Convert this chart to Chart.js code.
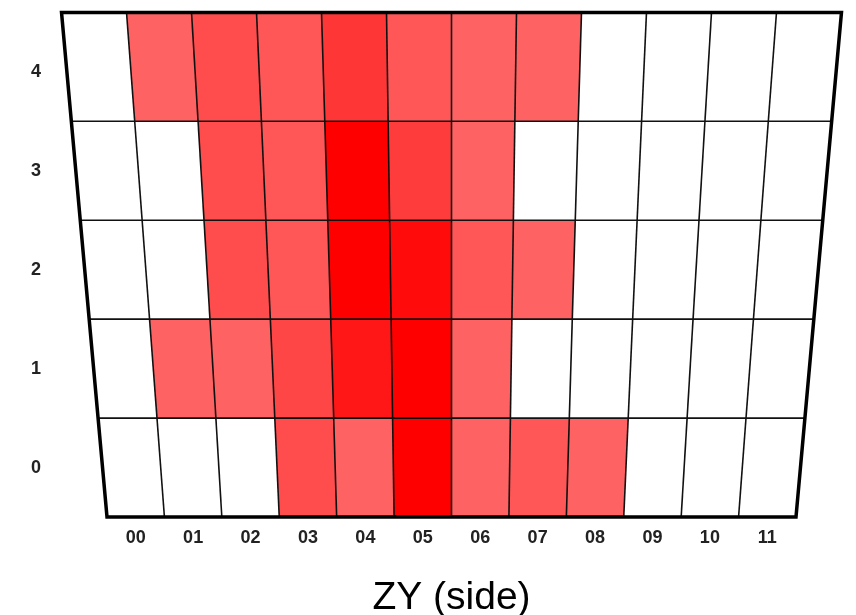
<!DOCTYPE html>
<html lang="en">
  <head>
    <meta charset="UTF-8" />
    <title>ZY (side)</title>
    <script src="https://cdn.jsdelivr.net/npm/chart.js"></script>
    <style>
      * {
        margin: 0;
        padding: 0;
        box-sizing: border-box;
      }
      body {
        background: #fff;
        width: 856px;
        height: 615px;
        overflow: hidden;
      }
      .wrap {
        position: relative;
        width: 856px;
        height: 615px;
      }
    </style>
  </head>
  <body>
    <div class="wrap"><canvas id="zy"></canvas></div>

    <script>
      // column / row labels
      const xLabels = ["00", "01", "02", "03", "04", "05", "06", "07", "08", "09", "10", "11"];
      const yLabels = ["0", "1", "2", "3", "4"];

      // intensity per cell (0 = empty, 10 = full red), one array per row
      const row0 = [0, 0, 0, 3, 1, 10, 1, 2, 1, 0, 0, 0];
      const row1 = [0, 1, 1, 3.6, 8, 10, 1, 0, 0, 0, 0, 0];
      const row2 = [0, 0, 3, 2, 10, 9, 2, 1, 0, 0, 0, 0];
      const row3 = [0, 0, 3, 2, 10, 4.5, 1, 0, 0, 0, 0, 0];
      const row4 = [0, 1, 3, 2, 5, 2, 1, 1, 0, 0, 0, 0];
      const rows = [row0, row1, row2, row3, row4];
      const maxValue = 10;

      // how much wider the top edge is than the bottom (perspective look)
      const topWiden = 0.132;

      function cellColor(v) {
        if (v <= 0) return null;
        const g = Math.round((98 * (maxValue - v)) / (maxValue - 1));
        return `rgb(255, ${g}, ${g})`;
      }

      const points = [];
      rows.forEach((r, ri) => {
        r.forEach((v, ci) => points.push({ x: ci, y: ri, v: v }));
      });

      const perspectiveGrid = {
        id: "perspectiveGrid",
        afterDatasetsDraw(chart) {
          const { ctx, chartArea, scales } = chart;
          const xs = scales.x;
          const ys = scales.y;
          const cx = (chartArea.left + chartArea.right) / 2;
          const h = chartArea.bottom - chartArea.top;

          // data -> pixel, bending x with height
          const px = (x, y) => {
            const py = ys.getPixelForValue(y);
            const f = 1 + (topWiden * (chartArea.bottom - py)) / h;
            return [cx + (xs.getPixelForValue(x) - cx) * f, py];
          };
          const yLo = (r) => (r === 0 ? ys.min : r - 0.5);
          const yHi = (r) => (r === rows.length - 1 ? ys.max : r + 0.5);

          ctx.save();
          // cells
          chart.data.datasets[0].data.forEach((p) => {
            const c = cellColor(p.v);
            if (!c) return;
            const a = px(p.x - 0.5, yLo(p.y));
            const b = px(p.x + 0.5, yLo(p.y));
            const d = px(p.x + 0.5, yHi(p.y));
            const e = px(p.x - 0.5, yHi(p.y));
            ctx.fillStyle = c;
            ctx.beginPath();
            ctx.moveTo(a[0], a[1]);
            ctx.lineTo(b[0], b[1]);
            ctx.lineTo(d[0], d[1]);
            ctx.lineTo(e[0], e[1]);
            ctx.closePath();
            ctx.fill();
          });

          // inner lines
          ctx.strokeStyle = "#111";
          ctx.lineWidth = 1.6;
          for (let i = 1; i < xLabels.length; i++) {
            const a = px(xs.min + i, ys.min);
            const b = px(xs.min + i, ys.max);
            ctx.beginPath();
            ctx.moveTo(a[0], a[1]);
            ctx.lineTo(b[0], b[1]);
            ctx.stroke();
          }
          for (let r = 1; r < rows.length; r++) {
            const a = px(xs.min, r - 0.5);
            const b = px(xs.max, r - 0.5);
            ctx.beginPath();
            ctx.moveTo(a[0], a[1]);
            ctx.lineTo(b[0], b[1]);
            ctx.stroke();
          }

          // outer border
          const c1 = px(xs.min, ys.min);
          const c2 = px(xs.max, ys.min);
          const c3 = px(xs.max, ys.max);
          const c4 = px(xs.min, ys.max);
          ctx.lineWidth = 3.5;
          ctx.strokeStyle = "#000";
          ctx.lineJoin = "miter";
          ctx.beginPath();
          ctx.moveTo(c1[0], c1[1]);
          ctx.lineTo(c2[0], c2[1]);
          ctx.lineTo(c3[0], c3[1]);
          ctx.lineTo(c4[0], c4[1]);
          ctx.closePath();
          ctx.stroke();
          ctx.restore();
        },
      };

      const tickFont = { family: "'Liberation Sans', Arial, sans-serif", size: 18, weight: "bold" };

      new Chart(document.getElementById("zy"), {
        type: "scatter",
        data: {
          datasets: [{ data: points, pointRadius: 0, showLine: false }],
        },
        options: {
          responsive: true,
          maintainAspectRatio: false,
          animation: false,
          events: [],
          layout: { padding: { left: 31, right: 60, top: 12.5, bottom: 0 } },
          plugins: { legend: { display: false }, tooltip: { enabled: false } },
          scales: {
            x: {
              type: "linear",
              min: -0.5,
              max: 11.5,
              afterBuildTicks: (s) => {
                s.ticks = xLabels.map((_, i) => ({ value: i }));
              },
              afterFit: (s) => {
                s.height = 98;
                s.paddingLeft = 0;
                s.paddingRight = 0;
              },
              grid: { display: false, drawTicks: false },
              border: { display: false },
              ticks: {
                padding: 10,
                color: "#222",
                font: tickFont,
                callback: (v) => xLabels[v],
              },
              title: {
                display: true,
                text: "ZY (side)",
                color: "#000",
                font: { family: "'Liberation Sans', Arial, sans-serif", size: 39, lineHeight: 0.87 },
                padding: { top: 0, bottom: 0 },
              },
            },
            y: {
              type: "linear",
              min: -0.5,
              max: 4.6,
              afterBuildTicks: (s) => {
                s.ticks = yLabels.map((_, i) => ({ value: i }));
              },
              afterFit: (s) => {
                s.width = 76;
                s.paddingTop = 0;
                s.paddingBottom = 0;
              },
              grid: { display: false, drawTicks: false },
              border: { display: false },
              ticks: {
                padding: 0,
                crossAlign: "far",
                color: "#222",
                font: tickFont,
                callback: (v) => yLabels[v],
              },
            },
          },
        },
        plugins: [perspectiveGrid],
      });
    </script>
  </body>
</html>
